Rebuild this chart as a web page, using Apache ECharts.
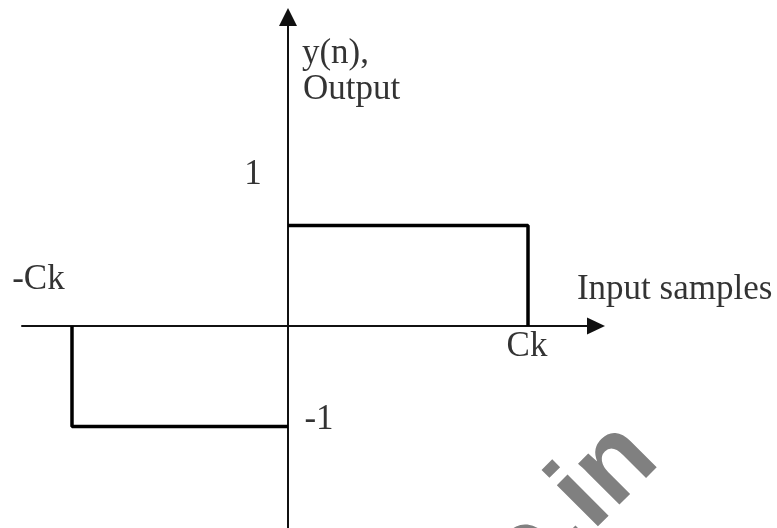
<!DOCTYPE html>
<html>
<head>
<meta charset="utf-8">
<script src="https://cdn.jsdelivr.net/npm/echarts@6/dist/echarts.min.js"></script>
<style>html,body{margin:0;padding:0;background:#fff}#c{width:777px;height:528px}</style>
</head>
<body>
<div id="c"></div>
<script>
// Data (Ck taken as 10 units, output levels ±1)
var CK = 10;
var positiveStep = [[0, 1], [CK, 1], [CK, 0]];
var negativeStep = [[-0.9 * CK, 0], [-0.9 * CK, -1], [0, -1]];
var tickTexts = ['1', '-Ck', 'Ck', '-1'];
var axisTitles = ['y(n),', 'Output', 'Input samples'];

// Layout of annotation texts (data coordinates)
var annotationPlaces = [
  {text: tickTexts[0], coord: [-1.46, 1.50], align: 'center'},
  {text: tickTexts[1], coord: [-10.4, 0.46], align: 'center'},
  {text: tickTexts[2], coord: [9.96, -0.21], align: 'center'},
  {text: tickTexts[3], coord: [1.29, -0.935], align: 'center'},
  {text: axisTitles[0], coord: [0.58, 2.71], align: 'left'},
  {text: axisTitles[1], coord: [0.62, 2.35], align: 'left'},
  {text: axisTitles[2], coord: [12.04, 0.36], align: 'left'}
];

var chart = echarts.init(document.getElementById('c'));
var serif = '"Liberation Serif", "Times New Roman", serif';
var lineStyle = {color: '#000', width: 3.5};

chart.setOption({
  animation: false,
  backgroundColor: '#fff',
  grid: {left: 22, right: 181, top: 17, bottom: 0, containLabel: false},
  xAxis: {
    type: 'value', min: -11.083, max: 12.833,
    axisLine: {onZero: true, lineStyle: {color: '#111', width: 2}, symbol: ['none', 'triangle'], symbolSize: [17, 18]},
    axisTick: {show: false}, axisLabel: {show: false}, splitLine: {show: false}
  },
  yAxis: {
    type: 'value', min: -2.01, max: 3.075,
    axisLine: {onZero: true, lineStyle: {color: '#111', width: 2}, symbol: ['none', 'triangle'], symbolSize: [18, 18]},
    axisTick: {show: false}, axisLabel: {show: false}, splitLine: {show: false}
  },
  graphic: [{
    type: 'text', x: 545, y: 614, rotation: Math.PI / 4, silent: true,
    style: {text: 'e.in', font: 'bold 110px "Liberation Sans", Arial, sans-serif', fill: '#808080', align: 'left', verticalAlign: 'bottom'}
  }],
  series: [
    {type: 'line', data: positiveStep, showSymbol: false, lineStyle: lineStyle, z: 3},
    {type: 'line', data: negativeStep, showSymbol: false, lineStyle: lineStyle, z: 3},
    {
      type: 'scatter', symbolSize: 0, silent: true,
      data: annotationPlaces.map(function (a) {
        return {value: a.coord, label: {show: true, position: 'inside', formatter: a.text, align: a.align,
          color: '#000', fontFamily: serif, fontSize: 35}};
      })
    }
  ]
});
</script>
</body>
</html>
